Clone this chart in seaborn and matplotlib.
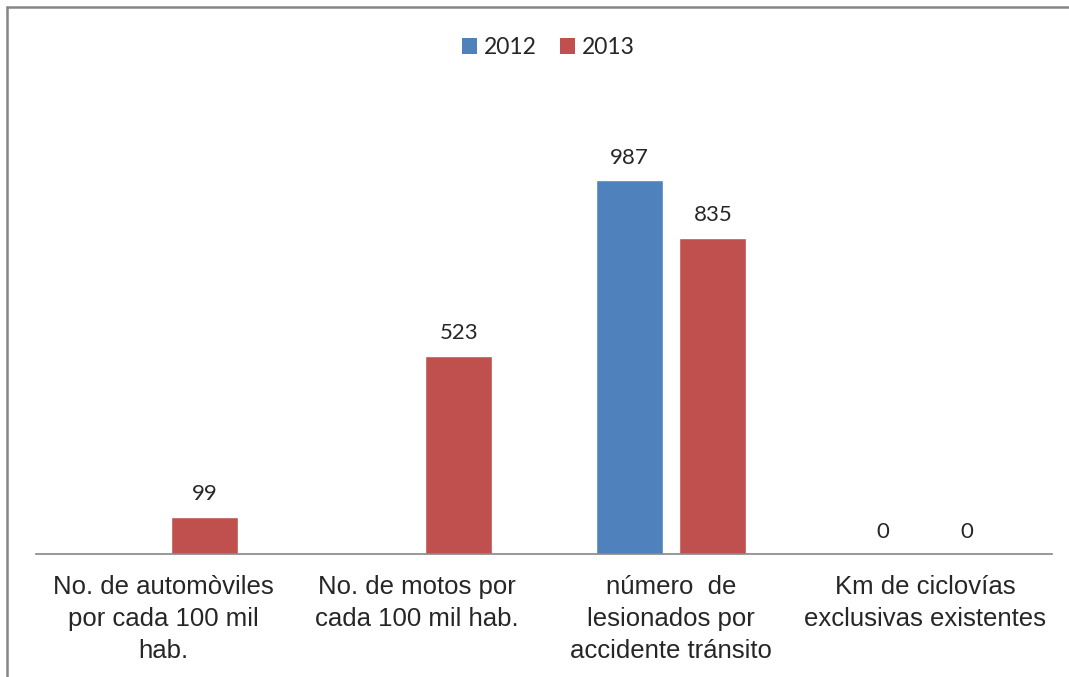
import matplotlib
matplotlib.use("Agg")
import matplotlib.pyplot as plt
import seaborn as sns
import numpy as np
import pandas as pd
from matplotlib.lines import Line2D
from matplotlib.patches import Patch

categories = [
    "No. de automòviles\npor cada 100 mil\nhab.",
    "No. de motos por\ncada 100 mil hab.",
    "número  de\nlesionados por\naccidente tránsito",
    "Km de ciclovías\nexclusivas existentes",
]
years = ["2012", "2013"]
values2012 = [np.nan, np.nan, 987, 0]
values2013 = [99, 523, 835, 0]
colors = {"2012": "#4F81BD", "2013": "#C0504D"}

df = pd.DataFrame(
    {
        "categoria": categories * 2,
        "anio": ["2012"] * 4 + ["2013"] * 4,
        "valor": values2012 + values2013,
    }
).dropna()

sns.set_style("white")
plt.rcParams["font.family"] = ["Liberation Sans", "DejaVu Sans"]

fig = plt.figure(figsize=(10.69, 6.77), dpi=100)
ax = fig.add_axes([36 / 1069, 123 / 677, 1016 / 1069, 454.5 / 677])

sns.barplot(
    data=df,
    x="categoria",
    y="valor",
    hue="anio",
    order=categories,
    hue_order=years,
    palette=colors,
    width=0.66,
    gap=0.2,
    saturation=1,
    ax=ax,
)

for cont in ax.containers:
    ax.bar_label(cont, fmt="%d", padding=9, fontsize=16, family=["Lato", "DejaVu Sans"])

ax.set_ylim(0, 1200)
ax.set_xlim(-0.5, 3.5)
ax.set_xlabel("")
ax.set_ylabel("")
ax.set_yticks([])
for side in ["left", "right", "top"]:
    ax.spines[side].set_visible(False)
ax.spines["bottom"].set_color("#868686")
ax.spines["bottom"].set_linewidth(1.2)
ax.tick_params(axis="x", length=0, pad=15)
for lbl in ax.get_xticklabels():
    lbl.set_fontsize(18.5)
    lbl.set_linespacing(1.42)

ax.get_legend().remove()
handles = [Patch(facecolor=colors[y], edgecolor="none") for y in years]
fig.legend(
    handles, years, loc="center", bbox_to_anchor=(548.5 / 1069, 1 - 47.5 / 677),
    ncol=2, frameon=False, handlelength=0.65, handleheight=0.65,
    handletextpad=0.3, columnspacing=1.0,
    prop={"family": ["Lato", "DejaVu Sans"], "size": 16.5},
)

# outer chart border (left and top edges visible)
fig.add_artist(Line2D([6.5 / 1069, 6.5 / 1069], [0, 1 - 6.5 / 677],
                      transform=fig.transFigure, color="#868686", linewidth=1.8))
fig.add_artist(Line2D([6.5 / 1069, 1], [1 - 6.5 / 677, 1 - 6.5 / 677],
                      transform=fig.transFigure, color="#868686", linewidth=1.8))

fig.savefig("out.png", dpi=100)
